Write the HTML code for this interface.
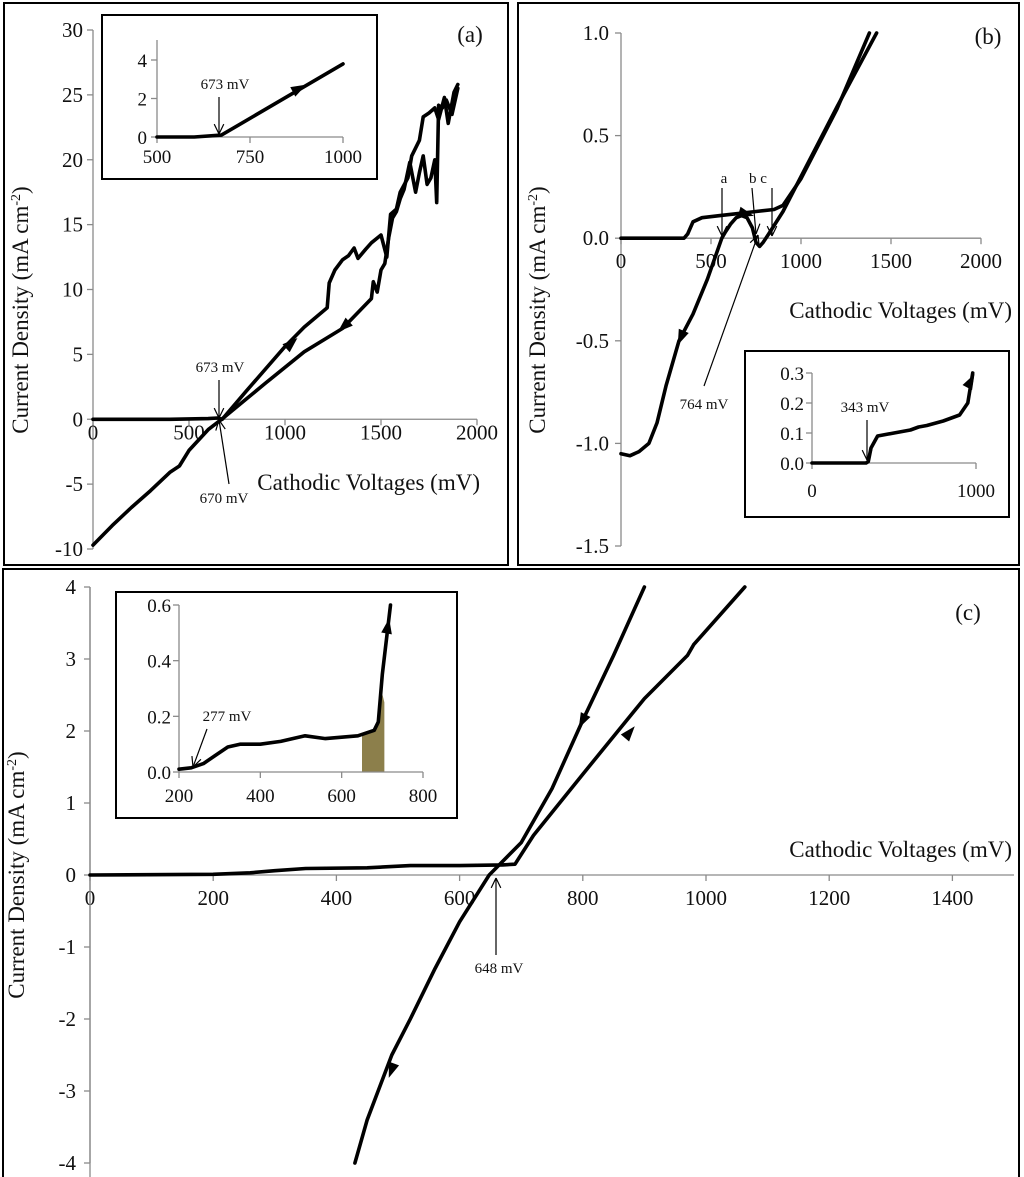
<!DOCTYPE html>
<html><head><meta charset="utf-8"><style>
html,body{margin:0;padding:0;background:#fff}
svg{display:block;font-family:"Liberation Serif",serif}
.ax{stroke:#8a8a8a;stroke-width:1.3;fill:none}
.tk{font-size:21px;fill:#111}
.itk{font-size:19px;fill:#111}
.ttl{font-size:23px;fill:#111}
.ann{font-size:15px;fill:#111}
.curve{fill:none;stroke:#000;stroke-width:3.6;stroke-linejoin:round;stroke-linecap:round}
.box{fill:#fff;stroke:#000;stroke-width:2}
</style></head><body>
<svg id="fig" width="1024" height="1177" viewBox="0 0 1024 1177"></svg>
<script>
// ---------- data ----------
// panel (a)
const aTicksX=[0,500,1000,1500,2000];
const aTicksY=[-10,-5,0,5,10,15,20,25,30];
const aFwdV=[0,200,400,600,650,673,800,1000,1100,1220,1230,1260,1300,1330,1360,1380,1420,1450,1500,1530,1550,1580,1600,1640,1660,1700,1720,1750,1780,1800,1830,1850,1880,1900];
const aFwdI=[0,0,0,0.05,0.1,0,2.2,5.6,7.1,8.6,10.5,11.5,12.3,12.6,13.2,12.4,13.1,13.6,14.2,12.5,15.8,16.2,17.5,18.6,20.3,21.5,23.3,23.6,24,23.1,24.8,22.8,25.2,25.8];
const aRevV=[1900,1870,1840,1820,1800,1790,1780,1760,1740,1720,1700,1680,1650,1620,1600,1580,1560,1540,1520,1500,1480,1460,1450,1300,1100,900,670,600,500,450,400,300,200,100,0];
const aRevI=[25.5,23.5,24.6,24,24.2,16.7,20,18.6,18.1,20.3,19,17.5,19.8,17.7,17,16,15.5,14,12,11.5,9.8,10.6,9.3,7,5.2,2.8,0,-0.8,-2.4,-3.6,-4.1,-5.5,-6.8,-8.2,-9.7];
const aInsV=[500,600,673,1000];
const aInsI=[0,0,0.1,3.8];
const aInsTicksX=[500,750,1000];
const aInsTicksY=[0,2,4];
// panel (b)
const bTicksX=[0,500,1000,1500,2000];
const bTicksY=[-1.5,-1.0,-0.5,0.0,0.5,1.0];
const bFwdV=[0,200,350,370,400,450,550,650,750,850,900,1000,1200,1380];
const bFwdI=[0,0,0,0.02,0.08,0.1,0.11,0.12,0.13,0.14,0.16,0.29,0.63,1.0];
const bRevV=[1420,1200,1000,900,820,790,770,750,730,700,670,640,610,580,560,480,400,322,250,200,155,100,50,0];
const bRevI=[1.0,0.64,0.3,0.13,0.02,-0.02,-0.04,-0.02,0.05,0.1,0.11,0.1,0.07,0.03,0.0,-0.2,-0.37,-0.5,-0.72,-0.9,-1.0,-1.04,-1.06,-1.05];
const bInsV=[0,200,330,343,360,400,500,600,650,700,800,850,900,950,980];
const bInsI=[0,0,0,0.005,0.05,0.09,0.1,0.11,0.12,0.125,0.14,0.15,0.16,0.2,0.3];
const bInsTicksX=[0,1000];
const bInsTicksY=[0.0,0.1,0.2,0.3];
// panel (c)
const cTicksX=[0,200,400,600,800,1000,1200,1400];
const cTicksY=[-4,-3,-2,-1,0,1,2,3,4];
const cFwdV=[0,200,260,300,350,450,520,600,670,690,720,800,900,970,980,1063];
const cFwdI=[0,0.01,0.03,0.06,0.09,0.1,0.13,0.13,0.14,0.15,0.55,1.4,2.45,3.05,3.2,4];
const cRevV=[900,850,800,750,700,648,600,560,520,490,470,450,430];
const cRevI=[4,3.05,2.15,1.2,0.45,0,-0.65,-1.3,-2.0,-2.5,-2.95,-3.4,-4];
const cInsV=[200,230,260,290,320,350,400,450,510,560,640,680,690,700,720];
const cInsI=[0.01,0.015,0.03,0.06,0.09,0.1,0.1,0.11,0.13,0.12,0.13,0.15,0.18,0.35,0.6];
const cShadeV=[650,670,680,690,700,705];
const cShadeI=[0.135,0.14,0.15,0.18,0.28,0.25];
const cInsTicksX=[200,400,600,800];
const cInsTicksY=[0.0,0.2,0.4,0.6];

// ---------- drawing ----------
const NS='http://www.w3.org/2000/svg';
const svg=document.getElementById('fig');
function mk(tag,attrs,parent,text){const e=document.createElementNS(NS,tag);for(const k in attrs)e.setAttribute(k,attrs[k]);if(text!==undefined)e.textContent=text;(parent||svg).appendChild(e);return e;}
function lin(d0,d1,p0,p1){return v=>p0+(v-d0)*(p1-p0)/(d1-d0);}
function path(xs,ys,sx,sy){return xs.map((v,i)=>(i?'L':'M')+sx(v).toFixed(1)+' '+sy(ys[i]).toFixed(1)).join(' ');}
function fmt(v,dec){return v.toFixed(dec);}
function axes(g,sx,sy,tx,ty,yAxisX,xAxisY,cls,dec,lblOffY,lblOffX){
  const xl=mk('line',{x1:sx(tx[0]),x2:sx(tx[tx.length-1]),y1:xAxisY,y2:xAxisY,class:'ax'},g);
  
  
  const yl=mk('line',{x1:yAxisX,x2:yAxisX,y1:sy(ty[0]),y2:sy(ty[ty.length-1]),class:'ax'},g);
  
  
  tx.forEach(v=>{mk('line',{x1:sx(v),x2:sx(v),y1:xAxisY,y2:xAxisY+6,class:'ax'},g);
    const t=mk('text',{x:sx(v),y:xAxisY+lblOffY,'text-anchor':'middle',class:cls},g,String(v));
    
    });
  ty.forEach(v=>{mk('line',{x1:yAxisX-6,x2:yAxisX,y1:sy(v),y2:sy(v),class:'ax'},g);
    const t=mk('text',{x:yAxisX-lblOffX,y:sy(v)+7,'text-anchor':'end',class:cls},g,fmt(v,dec));
    
    });
}
function curve(g,xs,ys,sx,sy,name){const p=mk('path',{d:path(xs,ys,sx,sy),class:'curve'},g);
  
  return p;}
function head(g,x,y,ang,s){s=s||9;const a=ang*Math.PI/180;
  const p=[[s,0],[-s*0.7,s*0.6],[-s*0.7,-s*0.6]].map(([u,w])=>[x+u*Math.cos(a)-w*Math.sin(a),y+u*Math.sin(a)+w*Math.cos(a)]);
  const h=mk('polygon',{points:p.map(q=>q.join(',')).join(' '),fill:'#000'},g);
  
  }
function pointer(g,x1,y1,x2,y2){mk('line',{x1,y1,x2,y2,stroke:'#000','stroke-width':1.2},g);
  const a=Math.atan2(y2-y1,x2-x1);const L=11;
  [0.45,-0.45].forEach(d=>mk('line',{x1:x2,y1:y2,x2:x2-L*Math.cos(a+d),y2:y2-L*Math.sin(a+d),stroke:'#000','stroke-width':1.2},g));}
function txt(g,x,y,s,cls,name,anchor){const t=mk('text',{x,y,class:cls,'text-anchor':anchor||'middle'},g,s);
  
  return t;}
function ytitle(g,x,y){const t=mk('text',{x:0,y:0,class:'ttl','text-anchor':'middle',transform:`translate(${x},${y}) rotate(-90)`},g);
  
  
  t.appendChild(document.createTextNode('Current Density (mA cm'));
  mk('tspan',{dy:-8,'font-size':14},t,'-2');mk('tspan',{dy:8},t,')');}

// ===== Panel (a) =====
const gA=mk('g',{});
mk('rect',{x:4,y:3,width:504,height:562,fill:'none',stroke:'#000','stroke-width':2},gA);
const axA=lin(0,2000,93,477), ayA=lin(-10,30,549,30);
axes(gA,axA,ayA,aTicksX,aTicksY,93,ayA(0),'tk',0,20,10);
curve(gA,aFwdV,aFwdI,axA,ayA,'forward-scan');
curve(gA,aRevV,aRevI,axA,ayA,'reverse-scan');
head(gA,axA(1030),ayA(5.8),-42);head(gA,axA(1310),ayA(7.2),138);
txt(gA,480,490,'Cathodic Voltages (mV)','ttl','x-axis-title','end');
ytitle(gA,28,310);
txt(gA,470,42,'(a)','ttl','panel-label');
txt(gA,220,372,'673 mV','ann','annotation-673');pointer(gA,219,380,219,418);
txt(gA,224,503,'670 mV','ann','annotation-670');pointer(gA,229,484,219,420);
// inset a
const gAi=mk('g',{},gA);
mk('rect',{x:102,y:15,width:275,height:164,class:'box'},gAi);
const ixA=lin(500,1000,157,343), iyA=lin(0,4,137,60);
axes(gAi,ixA,iyA,aInsTicksX,aInsTicksY,157,iyA(0),'itk',0,26,10);
mk('line',{x1:157,x2:157,y1:iyA(4),y2:40,class:'ax'},gAi);
curve(gAi,aInsV,aInsI,ixA,iyA,'inset-a-curve');
head(gAi,ixA(880),iyA(2.5),-28);
txt(gAi,225,89,'673 mV','ann','inset-annotation-673');pointer(gAi,219,97,219,134);

// ===== Panel (b) =====
const gB=mk('g',{});
mk('rect',{x:518,y:3,width:501,height:562,fill:'none',stroke:'#000','stroke-width':2},gB);
const axB=lin(0,2000,621,981), ayB=lin(-1.5,1.0,546,33);
axes(gB,axB,ayB,bTicksX,bTicksY,621,ayB(0),'tk',1,30,12);
curve(gB,bFwdV,bFwdI,axB,ayB,'forward-scan');
curve(gB,bRevV,bRevI,axB,ayB,'reverse-scan');
head(gB,axB(335),ayB(-0.48),113);head(gB,axB(690),ayB(0.12),15);
txt(gB,1012,318,'Cathodic Voltages (mV)','ttl','x-axis-title','end');
ytitle(gB,545,310);
txt(gB,988,44,'(b)','ttl','panel-label');
txt(gB,724,183,'a','ann','label-a');pointer(gB,722,188,722,236);
txt(gB,758,183,'b c','ann','label-bc');pointer(gB,752,188,756,234);pointer(gB,772,188,772,236);
txt(gB,704,409,'764 mV','ann','annotation-764');pointer(gB,704,386,758,235);
// inset b
const gBi=mk('g',{},gB);
mk('rect',{x:745,y:351,width:264,height:166,class:'box'},gBi);
const ixB=lin(0,1000,812,976), iyB=lin(0,0.3,463,373);
axes(gBi,ixB,iyB,bInsTicksX,bInsTicksY,812,iyB(0),'itk',1,34,8);
curve(gBi,bInsV,bInsI,ixB,iyB,'inset-b-curve');
head(gBi,ixB(965),iyB(0.27),-62);
txt(gBi,865,412,'343 mV','ann','inset-annotation-343');pointer(gBi,867,420,867,460);

// ===== Panel (c) =====
const gC=mk('g',{});
mk('rect',{x:3,y:569,width:1016,height:610,fill:'none',stroke:'#000','stroke-width':2},gC);
const axC=lin(0,1500,90,1014), ayC=lin(-4,4,1163,587);
axes(gC,axC,ayC,cTicksX,cTicksY,90,ayC(0),'tk',0,30,14);
mk('line',{x1:axC(1400),x2:1014,y1:ayC(0),y2:ayC(0),class:'ax'},gC);
mk('line',{x1:90,x2:90,y1:ayC(4),y2:1177,class:'ax'},gC);
curve(gC,cFwdV,cFwdI,axC,ayC,'forward-scan');
curve(gC,cRevV,cRevI,axC,ayC,'reverse-scan');
head(gC,axC(875),ayC(1.97),-50);head(gC,axC(800),ayC(2.15),117);head(gC,axC(490),ayC(-2.7),110);
txt(gC,1012,857,'Cathodic Voltages (mV)','ttl','x-axis-title','end');
ytitle(gC,24,875);
txt(gC,968,620,'(c)','ttl','panel-label');
txt(gC,499,973,'648 mV','ann','annotation-648');pointer(gC,496,955,496,878);
// inset c
const gCi=mk('g',{},gC);
mk('rect',{x:116,y:592,width:341,height:226,class:'box'},gCi);
const ixC=lin(200,800,179,423), iyC=lin(0,0.6,772,605);
const sh=cShadeV.map((v,i)=>ixC(v)+','+iyC(cShadeI[i])).join(' ');
const shade=mk('polygon',{points:ixC(650)+','+iyC(0)+' '+sh+' '+ixC(705)+','+iyC(0),fill:'#8c7f4b'},gCi);


axes(gCi,ixC,iyC,cInsTicksX,cInsTicksY,179,iyC(0),'itk',1,30,8);
curve(gCi,cInsV,cInsI,ixC,iyC,'inset-c-curve');
head(gCi,ixC(713),iyC(0.52),-80);
txt(gCi,227,721,'277 mV','ann','inset-annotation-277');pointer(gCi,207,729,193,767);
</script>
</body></html>
